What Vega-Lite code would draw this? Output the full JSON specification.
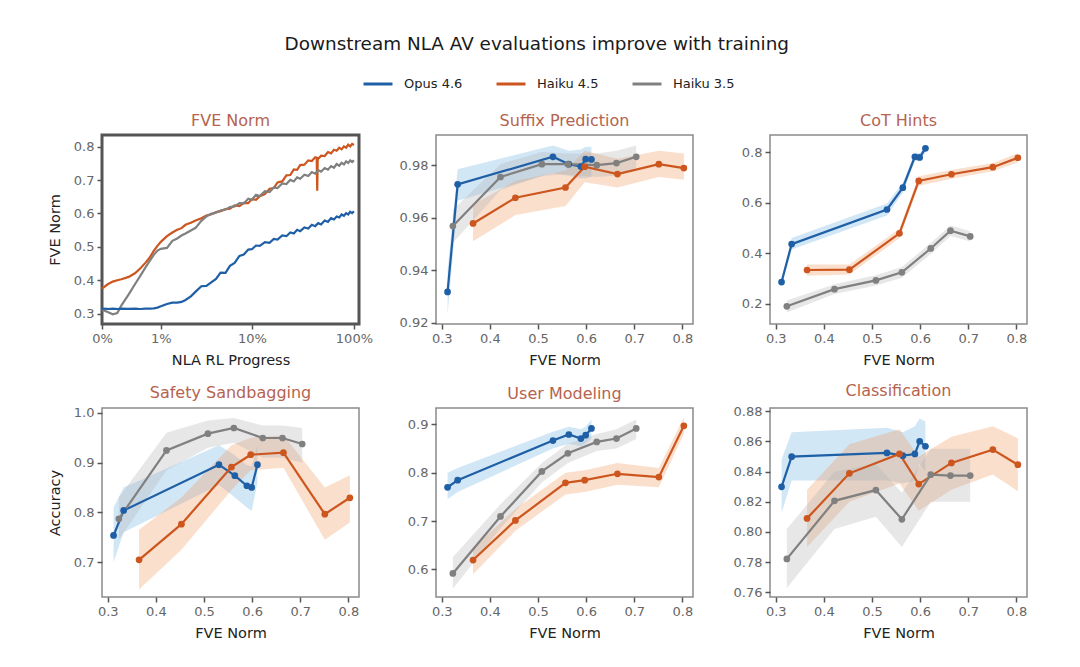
{
  "$schema": "https://vega.github.io/schema/vega-lite/v6.json",
  "background": "white",
  "padding": {"left": 45, "top": 34, "right": 20, "bottom": 20},
  "title": {"text": "Downstream NLA AV evaluations improve with training", "anchor": "middle", "fontSize": 18.4, "color": "#1a1a1a", "fontWeight": "normal", "font": "DejaVu Sans", "offset": 15, "frame": "bounds"},
  "config": {
    "font": "DejaVu Sans",
    "view": {"stroke": "#8a8a8a", "strokeWidth": 1.5},
    "title": {"fontSize": 16, "color": "#b5634f", "fontWeight": "normal", "offset": 6, "frame": "group"},
    "axis": {"domain": false, "grid": false, "labelFlush": false, "tickColor": "#555", "tickSize": 5, "tickWidth": 1.5, "labelColor": "#666", "labelFontSize": 13, "titleFontSize": 14.5, "titleFontWeight": "normal", "titleColor": "#222", "labelPadding": 3, "titlePadding": 8},
    "axisY": {"titlePadding": 11}
  },
  "datasets": {
    "rl": [
      {"m": "Haiku 4.5", "x": 0, "y": 0.375}, {"m": "Haiku 4.5", "x": 0.05, "y": 0.388}, {"m": "Haiku 4.5", "x": 0.1, "y": 0.396}, {"m": "Haiku 4.5", "x": 0.15, "y": 0.4}, {"m": "Haiku 4.5", "x": 0.2, "y": 0.403}, {"m": "Haiku 4.5", "x": 0.3, "y": 0.41}, {"m": "Haiku 4.5", "x": 0.4, "y": 0.421}, {"m": "Haiku 4.5", "x": 0.5, "y": 0.436}, {"m": "Haiku 4.5", "x": 0.6, "y": 0.452}, {"m": "Haiku 4.5", "x": 0.7, "y": 0.468}, {"m": "Haiku 4.5", "x": 0.8, "y": 0.488}, {"m": "Haiku 4.5", "x": 0.9, "y": 0.503}, {"m": "Haiku 4.5", "x": 1.0, "y": 0.515}, {"m": "Haiku 4.5", "x": 1.2, "y": 0.532}, {"m": "Haiku 4.5", "x": 1.4, "y": 0.543}, {"m": "Haiku 4.5", "x": 1.6, "y": 0.551}, {"m": "Haiku 4.5", "x": 1.8, "y": 0.556}, {"m": "Haiku 4.5", "x": 2.0, "y": 0.566}, {"m": "Haiku 4.5", "x": 2.3, "y": 0.572}, {"m": "Haiku 4.5", "x": 2.6, "y": 0.579}, {"m": "Haiku 4.5", "x": 3.0, "y": 0.586}, {"m": "Haiku 4.5", "x": 3.4, "y": 0.594}, {"m": "Haiku 4.5", "x": 3.8, "y": 0.597}, {"m": "Haiku 4.5", "x": 4.3, "y": 0.604}, {"m": "Haiku 4.5", "x": 4.8, "y": 0.607}, {"m": "Haiku 4.5", "x": 5.4, "y": 0.613}, {"m": "Haiku 4.5", "x": 6, "y": 0.614}, {"m": "Haiku 4.5", "x": 6.7, "y": 0.624}, {"m": "Haiku 4.5", "x": 7.5, "y": 0.622}, {"m": "Haiku 4.5", "x": 8.3, "y": 0.632}, {"m": "Haiku 4.5", "x": 9.2, "y": 0.631}, {"m": "Haiku 4.5", "x": 10, "y": 0.643}, {"m": "Haiku 4.5", "x": 11, "y": 0.641}, {"m": "Haiku 4.5", "x": 12, "y": 0.652}, {"m": "Haiku 4.5", "x": 13.5, "y": 0.658}, {"m": "Haiku 4.5", "x": 15, "y": 0.674}, {"m": "Haiku 4.5", "x": 16.5, "y": 0.676}, {"m": "Haiku 4.5", "x": 18, "y": 0.693}, {"m": "Haiku 4.5", "x": 20, "y": 0.696}, {"m": "Haiku 4.5", "x": 22, "y": 0.714}, {"m": "Haiku 4.5", "x": 24, "y": 0.715}, {"m": "Haiku 4.5", "x": 26, "y": 0.732}, {"m": "Haiku 4.5", "x": 28, "y": 0.731}, {"m": "Haiku 4.5", "x": 30, "y": 0.745}, {"m": "Haiku 4.5", "x": 33, "y": 0.746}, {"m": "Haiku 4.5", "x": 36, "y": 0.759}, {"m": "Haiku 4.5", "x": 39, "y": 0.757}, {"m": "Haiku 4.5", "x": 42, "y": 0.768}, {"m": "Haiku 4.5", "x": 43.5, "y": 0.766}, {"m": "Haiku 4.5", "x": 44, "y": 0.668}, {"m": "Haiku 4.5", "x": 44.5, "y": 0.765}, {"m": "Haiku 4.5", "x": 45, "y": 0.764}, {"m": "Haiku 4.5", "x": 48, "y": 0.773}, {"m": "Haiku 4.5", "x": 52, "y": 0.772}, {"m": "Haiku 4.5", "x": 56, "y": 0.784}, {"m": "Haiku 4.5", "x": 60, "y": 0.78}, {"m": "Haiku 4.5", "x": 64, "y": 0.791}, {"m": "Haiku 4.5", "x": 68, "y": 0.788}, {"m": "Haiku 4.5", "x": 72, "y": 0.797}, {"m": "Haiku 4.5", "x": 76, "y": 0.792}, {"m": "Haiku 4.5", "x": 80, "y": 0.801}, {"m": "Haiku 4.5", "x": 84, "y": 0.797}, {"m": "Haiku 4.5", "x": 88, "y": 0.806}, {"m": "Haiku 4.5", "x": 92, "y": 0.801}, {"m": "Haiku 4.5", "x": 96, "y": 0.808}, {"m": "Haiku 4.5", "x": 100, "y": 0.805},
      {"m": "Haiku 3.5", "x": 0, "y": 0.312}, {"m": "Haiku 3.5", "x": 0.05, "y": 0.305}, {"m": "Haiku 3.5", "x": 0.1, "y": 0.298}, {"m": "Haiku 3.5", "x": 0.15, "y": 0.302}, {"m": "Haiku 3.5", "x": 0.2, "y": 0.325}, {"m": "Haiku 3.5", "x": 0.3, "y": 0.358}, {"m": "Haiku 3.5", "x": 0.4, "y": 0.388}, {"m": "Haiku 3.5", "x": 0.5, "y": 0.414}, {"m": "Haiku 3.5", "x": 0.6, "y": 0.438}, {"m": "Haiku 3.5", "x": 0.7, "y": 0.458}, {"m": "Haiku 3.5", "x": 0.8, "y": 0.476}, {"m": "Haiku 3.5", "x": 0.9, "y": 0.489}, {"m": "Haiku 3.5", "x": 1.0, "y": 0.494}, {"m": "Haiku 3.5", "x": 1.2, "y": 0.497}, {"m": "Haiku 3.5", "x": 1.4, "y": 0.518}, {"m": "Haiku 3.5", "x": 1.6, "y": 0.525}, {"m": "Haiku 3.5", "x": 1.8, "y": 0.534}, {"m": "Haiku 3.5", "x": 2.0, "y": 0.54}, {"m": "Haiku 3.5", "x": 2.3, "y": 0.549}, {"m": "Haiku 3.5", "x": 2.6, "y": 0.557}, {"m": "Haiku 3.5", "x": 3.0, "y": 0.578}, {"m": "Haiku 3.5", "x": 3.4, "y": 0.591}, {"m": "Haiku 3.5", "x": 3.8, "y": 0.599}, {"m": "Haiku 3.5", "x": 4.3, "y": 0.602}, {"m": "Haiku 3.5", "x": 4.8, "y": 0.609}, {"m": "Haiku 3.5", "x": 5.4, "y": 0.612}, {"m": "Haiku 3.5", "x": 6, "y": 0.619}, {"m": "Haiku 3.5", "x": 6.7, "y": 0.621}, {"m": "Haiku 3.5", "x": 7.5, "y": 0.631}, {"m": "Haiku 3.5", "x": 8.3, "y": 0.63}, {"m": "Haiku 3.5", "x": 9.2, "y": 0.644}, {"m": "Haiku 3.5", "x": 10, "y": 0.641}, {"m": "Haiku 3.5", "x": 11, "y": 0.656}, {"m": "Haiku 3.5", "x": 12, "y": 0.652}, {"m": "Haiku 3.5", "x": 13.5, "y": 0.667}, {"m": "Haiku 3.5", "x": 15, "y": 0.664}, {"m": "Haiku 3.5", "x": 16.5, "y": 0.678}, {"m": "Haiku 3.5", "x": 18, "y": 0.676}, {"m": "Haiku 3.5", "x": 20, "y": 0.69}, {"m": "Haiku 3.5", "x": 22, "y": 0.688}, {"m": "Haiku 3.5", "x": 24, "y": 0.701}, {"m": "Haiku 3.5", "x": 26, "y": 0.696}, {"m": "Haiku 3.5", "x": 28, "y": 0.708}, {"m": "Haiku 3.5", "x": 30, "y": 0.704}, {"m": "Haiku 3.5", "x": 33, "y": 0.716}, {"m": "Haiku 3.5", "x": 36, "y": 0.712}, {"m": "Haiku 3.5", "x": 39, "y": 0.724}, {"m": "Haiku 3.5", "x": 42, "y": 0.719}, {"m": "Haiku 3.5", "x": 45, "y": 0.73}, {"m": "Haiku 3.5", "x": 48, "y": 0.725}, {"m": "Haiku 3.5", "x": 52, "y": 0.736}, {"m": "Haiku 3.5", "x": 56, "y": 0.731}, {"m": "Haiku 3.5", "x": 60, "y": 0.742}, {"m": "Haiku 3.5", "x": 64, "y": 0.737}, {"m": "Haiku 3.5", "x": 68, "y": 0.748}, {"m": "Haiku 3.5", "x": 72, "y": 0.743}, {"m": "Haiku 3.5", "x": 76, "y": 0.752}, {"m": "Haiku 3.5", "x": 80, "y": 0.747}, {"m": "Haiku 3.5", "x": 84, "y": 0.756}, {"m": "Haiku 3.5", "x": 88, "y": 0.751}, {"m": "Haiku 3.5", "x": 92, "y": 0.759}, {"m": "Haiku 3.5", "x": 96, "y": 0.754}, {"m": "Haiku 3.5", "x": 100, "y": 0.759},
      {"m": "Opus 4.6", "x": 0, "y": 0.315}, {"m": "Opus 4.6", "x": 0.05, "y": 0.314}, {"m": "Opus 4.6", "x": 0.1, "y": 0.315}, {"m": "Opus 4.6", "x": 0.15, "y": 0.314}, {"m": "Opus 4.6", "x": 0.2, "y": 0.315}, {"m": "Opus 4.6", "x": 0.3, "y": 0.314}, {"m": "Opus 4.6", "x": 0.4, "y": 0.315}, {"m": "Opus 4.6", "x": 0.5, "y": 0.314}, {"m": "Opus 4.6", "x": 0.6, "y": 0.315}, {"m": "Opus 4.6", "x": 0.7, "y": 0.315}, {"m": "Opus 4.6", "x": 0.8, "y": 0.316}, {"m": "Opus 4.6", "x": 0.9, "y": 0.318}, {"m": "Opus 4.6", "x": 1.0, "y": 0.322}, {"m": "Opus 4.6", "x": 1.2, "y": 0.329}, {"m": "Opus 4.6", "x": 1.4, "y": 0.333}, {"m": "Opus 4.6", "x": 1.6, "y": 0.333}, {"m": "Opus 4.6", "x": 1.8, "y": 0.335}, {"m": "Opus 4.6", "x": 2.0, "y": 0.341}, {"m": "Opus 4.6", "x": 2.3, "y": 0.352}, {"m": "Opus 4.6", "x": 2.6, "y": 0.366}, {"m": "Opus 4.6", "x": 3.0, "y": 0.382}, {"m": "Opus 4.6", "x": 3.4, "y": 0.383}, {"m": "Opus 4.6", "x": 3.8, "y": 0.393}, {"m": "Opus 4.6", "x": 4.3, "y": 0.404}, {"m": "Opus 4.6", "x": 4.8, "y": 0.423}, {"m": "Opus 4.6", "x": 5.4, "y": 0.422}, {"m": "Opus 4.6", "x": 6, "y": 0.443}, {"m": "Opus 4.6", "x": 6.7, "y": 0.452}, {"m": "Opus 4.6", "x": 7.5, "y": 0.473}, {"m": "Opus 4.6", "x": 8.3, "y": 0.477}, {"m": "Opus 4.6", "x": 9.2, "y": 0.492}, {"m": "Opus 4.6", "x": 10, "y": 0.493}, {"m": "Opus 4.6", "x": 11, "y": 0.504}, {"m": "Opus 4.6", "x": 12, "y": 0.503}, {"m": "Opus 4.6", "x": 13.5, "y": 0.514}, {"m": "Opus 4.6", "x": 15, "y": 0.512}, {"m": "Opus 4.6", "x": 16.5, "y": 0.524}, {"m": "Opus 4.6", "x": 18, "y": 0.522}, {"m": "Opus 4.6", "x": 20, "y": 0.534}, {"m": "Opus 4.6", "x": 22, "y": 0.532}, {"m": "Opus 4.6", "x": 24, "y": 0.543}, {"m": "Opus 4.6", "x": 26, "y": 0.54}, {"m": "Opus 4.6", "x": 28, "y": 0.551}, {"m": "Opus 4.6", "x": 30, "y": 0.547}, {"m": "Opus 4.6", "x": 33, "y": 0.558}, {"m": "Opus 4.6", "x": 36, "y": 0.555}, {"m": "Opus 4.6", "x": 39, "y": 0.566}, {"m": "Opus 4.6", "x": 42, "y": 0.562}, {"m": "Opus 4.6", "x": 45, "y": 0.571}, {"m": "Opus 4.6", "x": 48, "y": 0.567}, {"m": "Opus 4.6", "x": 52, "y": 0.579}, {"m": "Opus 4.6", "x": 56, "y": 0.575}, {"m": "Opus 4.6", "x": 60, "y": 0.586}, {"m": "Opus 4.6", "x": 64, "y": 0.582}, {"m": "Opus 4.6", "x": 68, "y": 0.591}, {"m": "Opus 4.6", "x": 72, "y": 0.588}, {"m": "Opus 4.6", "x": 76, "y": 0.597}, {"m": "Opus 4.6", "x": 80, "y": 0.593}, {"m": "Opus 4.6", "x": 84, "y": 0.601}, {"m": "Opus 4.6", "x": 88, "y": 0.597}, {"m": "Opus 4.6", "x": 92, "y": 0.605}, {"m": "Opus 4.6", "x": 96, "y": 0.601}, {"m": "Opus 4.6", "x": 100, "y": 0.607}
    ],
    "ev": [
      {"p": "S", "m": "Opus 4.6", "x": 0.312, "y": 0.9317, "lo": 0.923, "hi": 0.94},
      {"p": "S", "m": "Opus 4.6", "x": 0.333, "y": 0.9727, "lo": 0.9665, "hi": 0.9785},
      {"p": "S", "m": "Opus 4.6", "x": 0.531, "y": 0.9832, "lo": 0.977, "hi": 0.9875},
      {"p": "S", "m": "Opus 4.6", "x": 0.564, "y": 0.9804, "lo": 0.976, "hi": 0.9855},
      {"p": "S", "m": "Opus 4.6", "x": 0.589, "y": 0.9795, "lo": 0.975, "hi": 0.986},
      {"p": "S", "m": "Opus 4.6", "x": 0.599, "y": 0.9823, "lo": 0.975, "hi": 0.987},
      {"p": "S", "m": "Opus 4.6", "x": 0.611, "y": 0.9822, "lo": 0.9755, "hi": 0.987},
      {"p": "S", "m": "Haiku 4.5", "x": 0.365, "y": 0.9578, "lo": 0.951, "hi": 0.965},
      {"p": "S", "m": "Haiku 4.5", "x": 0.453, "y": 0.9676, "lo": 0.961, "hi": 0.974},
      {"p": "S", "m": "Haiku 4.5", "x": 0.557, "y": 0.9715, "lo": 0.9645, "hi": 0.978},
      {"p": "S", "m": "Haiku 4.5", "x": 0.597, "y": 0.9794, "lo": 0.9735, "hi": 0.9855},
      {"p": "S", "m": "Haiku 4.5", "x": 0.665, "y": 0.9766, "lo": 0.9715, "hi": 0.9825},
      {"p": "S", "m": "Haiku 4.5", "x": 0.751, "y": 0.9804, "lo": 0.9755, "hi": 0.9855},
      {"p": "S", "m": "Haiku 4.5", "x": 0.803, "y": 0.9789, "lo": 0.9745, "hi": 0.9845},
      {"p": "S", "m": "Haiku 3.5", "x": 0.323, "y": 0.9568, "lo": 0.9505, "hi": 0.963},
      {"p": "S", "m": "Haiku 3.5", "x": 0.422, "y": 0.9755, "lo": 0.9705, "hi": 0.9805},
      {"p": "S", "m": "Haiku 3.5", "x": 0.508, "y": 0.9804, "lo": 0.976, "hi": 0.985},
      {"p": "S", "m": "Haiku 3.5", "x": 0.562, "y": 0.9804, "lo": 0.9765, "hi": 0.9845},
      {"p": "S", "m": "Haiku 3.5", "x": 0.622, "y": 0.98, "lo": 0.9755, "hi": 0.9845},
      {"p": "S", "m": "Haiku 3.5", "x": 0.663, "y": 0.9808, "lo": 0.976, "hi": 0.9855},
      {"p": "S", "m": "Haiku 3.5", "x": 0.704, "y": 0.9832, "lo": 0.979, "hi": 0.9875},
      {"p": "C", "m": "Opus 4.6", "x": 0.312, "y": 0.2853, "lo": 0.27, "hi": 0.3},
      {"p": "C", "m": "Opus 4.6", "x": 0.333, "y": 0.436, "lo": 0.415, "hi": 0.46},
      {"p": "C", "m": "Opus 4.6", "x": 0.531, "y": 0.5733, "lo": 0.55, "hi": 0.597},
      {"p": "C", "m": "Opus 4.6", "x": 0.564, "y": 0.66, "lo": 0.64, "hi": 0.68},
      {"p": "C", "m": "Opus 4.6", "x": 0.589, "y": 0.7827, "lo": 0.765, "hi": 0.8},
      {"p": "C", "m": "Opus 4.6", "x": 0.599, "y": 0.78, "lo": 0.765, "hi": 0.797},
      {"p": "C", "m": "Opus 4.6", "x": 0.611, "y": 0.816, "lo": 0.8, "hi": 0.83},
      {"p": "C", "m": "Haiku 4.5", "x": 0.365, "y": 0.3333, "lo": 0.31, "hi": 0.355},
      {"p": "C", "m": "Haiku 4.5", "x": 0.453, "y": 0.3347, "lo": 0.315, "hi": 0.355},
      {"p": "C", "m": "Haiku 4.5", "x": 0.557, "y": 0.4787, "lo": 0.46, "hi": 0.497},
      {"p": "C", "m": "Haiku 4.5", "x": 0.597, "y": 0.6867, "lo": 0.668, "hi": 0.705},
      {"p": "C", "m": "Haiku 4.5", "x": 0.665, "y": 0.7133, "lo": 0.695, "hi": 0.73},
      {"p": "C", "m": "Haiku 4.5", "x": 0.751, "y": 0.7413, "lo": 0.725, "hi": 0.758},
      {"p": "C", "m": "Haiku 4.5", "x": 0.803, "y": 0.7787, "lo": 0.76, "hi": 0.797},
      {"p": "C", "m": "Haiku 3.5", "x": 0.323, "y": 0.1893, "lo": 0.165, "hi": 0.212},
      {"p": "C", "m": "Haiku 3.5", "x": 0.422, "y": 0.2573, "lo": 0.238, "hi": 0.277},
      {"p": "C", "m": "Haiku 3.5", "x": 0.508, "y": 0.292, "lo": 0.272, "hi": 0.312},
      {"p": "C", "m": "Haiku 3.5", "x": 0.562, "y": 0.324, "lo": 0.303, "hi": 0.345},
      {"p": "C", "m": "Haiku 3.5", "x": 0.622, "y": 0.4187, "lo": 0.397, "hi": 0.44},
      {"p": "C", "m": "Haiku 3.5", "x": 0.663, "y": 0.4893, "lo": 0.468, "hi": 0.51},
      {"p": "C", "m": "Haiku 3.5", "x": 0.704, "y": 0.4667, "lo": 0.446, "hi": 0.487},
      {"p": "SS", "m": "Opus 4.6", "x": 0.312, "y": 0.7537, "lo": 0.7, "hi": 0.81},
      {"p": "SS", "m": "Opus 4.6", "x": 0.333, "y": 0.804, "lo": 0.76, "hi": 0.85},
      {"p": "SS", "m": "Opus 4.6", "x": 0.531, "y": 0.896, "lo": 0.855, "hi": 0.935},
      {"p": "SS", "m": "Opus 4.6", "x": 0.564, "y": 0.874, "lo": 0.83, "hi": 0.915},
      {"p": "SS", "m": "Opus 4.6", "x": 0.589, "y": 0.8537, "lo": 0.81, "hi": 0.895},
      {"p": "SS", "m": "Opus 4.6", "x": 0.599, "y": 0.8503, "lo": 0.803, "hi": 0.893},
      {"p": "SS", "m": "Opus 4.6", "x": 0.611, "y": 0.896, "lo": 0.86, "hi": 0.935},
      {"p": "SS", "m": "Haiku 4.5", "x": 0.365, "y": 0.7047, "lo": 0.645, "hi": 0.765},
      {"p": "SS", "m": "Haiku 4.5", "x": 0.453, "y": 0.7765, "lo": 0.725, "hi": 0.83},
      {"p": "SS", "m": "Haiku 4.5", "x": 0.557, "y": 0.8913, "lo": 0.845, "hi": 0.935},
      {"p": "SS", "m": "Haiku 4.5", "x": 0.597, "y": 0.9161, "lo": 0.885, "hi": 0.95},
      {"p": "SS", "m": "Haiku 4.5", "x": 0.665, "y": 0.9201, "lo": 0.89, "hi": 0.955},
      {"p": "SS", "m": "Haiku 4.5", "x": 0.751, "y": 0.7966, "lo": 0.745, "hi": 0.85},
      {"p": "SS", "m": "Haiku 4.5", "x": 0.803, "y": 0.8295, "lo": 0.78, "hi": 0.875},
      {"p": "SS", "m": "Haiku 3.5", "x": 0.323, "y": 0.7872, "lo": 0.745, "hi": 0.83},
      {"p": "SS", "m": "Haiku 3.5", "x": 0.422, "y": 0.9248, "lo": 0.885, "hi": 0.96},
      {"p": "SS", "m": "Haiku 3.5", "x": 0.508, "y": 0.9584, "lo": 0.93, "hi": 0.985},
      {"p": "SS", "m": "Haiku 3.5", "x": 0.562, "y": 0.9698, "lo": 0.94, "hi": 0.99},
      {"p": "SS", "m": "Haiku 3.5", "x": 0.622, "y": 0.9497, "lo": 0.91, "hi": 0.975},
      {"p": "SS", "m": "Haiku 3.5", "x": 0.663, "y": 0.9497, "lo": 0.91, "hi": 0.975},
      {"p": "SS", "m": "Haiku 3.5", "x": 0.704, "y": 0.9376, "lo": 0.9, "hi": 0.97},
      {"p": "U", "m": "Opus 4.6", "x": 0.312, "y": 0.77, "lo": 0.745, "hi": 0.8},
      {"p": "U", "m": "Opus 4.6", "x": 0.333, "y": 0.7847, "lo": 0.76, "hi": 0.81},
      {"p": "U", "m": "Opus 4.6", "x": 0.531, "y": 0.8667, "lo": 0.85, "hi": 0.885},
      {"p": "U", "m": "Opus 4.6", "x": 0.564, "y": 0.8792, "lo": 0.86, "hi": 0.895},
      {"p": "U", "m": "Opus 4.6", "x": 0.589, "y": 0.8708, "lo": 0.855, "hi": 0.89},
      {"p": "U", "m": "Opus 4.6", "x": 0.599, "y": 0.8778, "lo": 0.86, "hi": 0.895},
      {"p": "U", "m": "Opus 4.6", "x": 0.611, "y": 0.8917, "lo": 0.87, "hi": 0.91},
      {"p": "U", "m": "Haiku 4.5", "x": 0.365, "y": 0.6194, "lo": 0.59, "hi": 0.645},
      {"p": "U", "m": "Haiku 4.5", "x": 0.453, "y": 0.7014, "lo": 0.68, "hi": 0.725},
      {"p": "U", "m": "Haiku 4.5", "x": 0.557, "y": 0.7792, "lo": 0.755, "hi": 0.8},
      {"p": "U", "m": "Haiku 4.5", "x": 0.597, "y": 0.7847, "lo": 0.76, "hi": 0.805},
      {"p": "U", "m": "Haiku 4.5", "x": 0.665, "y": 0.7979, "lo": 0.775, "hi": 0.82},
      {"p": "U", "m": "Haiku 4.5", "x": 0.751, "y": 0.791, "lo": 0.77, "hi": 0.81},
      {"p": "U", "m": "Haiku 4.5", "x": 0.803, "y": 0.8972, "lo": 0.88, "hi": 0.915},
      {"p": "U", "m": "Haiku 3.5", "x": 0.323, "y": 0.5917, "lo": 0.56, "hi": 0.625},
      {"p": "U", "m": "Haiku 3.5", "x": 0.422, "y": 0.7097, "lo": 0.685, "hi": 0.735},
      {"p": "U", "m": "Haiku 3.5", "x": 0.508, "y": 0.8028, "lo": 0.78, "hi": 0.82},
      {"p": "U", "m": "Haiku 3.5", "x": 0.562, "y": 0.8403, "lo": 0.82, "hi": 0.86},
      {"p": "U", "m": "Haiku 3.5", "x": 0.622, "y": 0.8639, "lo": 0.845, "hi": 0.88},
      {"p": "U", "m": "Haiku 3.5", "x": 0.663, "y": 0.8708, "lo": 0.85, "hi": 0.89},
      {"p": "U", "m": "Haiku 3.5", "x": 0.704, "y": 0.8917, "lo": 0.87, "hi": 0.91},
      {"p": "CL", "m": "Opus 4.6", "x": 0.312, "y": 0.8299, "lo": 0.8125, "hi": 0.848},
      {"p": "CL", "m": "Opus 4.6", "x": 0.333, "y": 0.8498, "lo": 0.834, "hi": 0.866},
      {"p": "CL", "m": "Opus 4.6", "x": 0.531, "y": 0.8523, "lo": 0.834, "hi": 0.869},
      {"p": "CL", "m": "Opus 4.6", "x": 0.564, "y": 0.8505, "lo": 0.832, "hi": 0.866},
      {"p": "CL", "m": "Opus 4.6", "x": 0.589, "y": 0.8516, "lo": 0.834, "hi": 0.87},
      {"p": "CL", "m": "Opus 4.6", "x": 0.599, "y": 0.86, "lo": 0.845, "hi": 0.875},
      {"p": "CL", "m": "Opus 4.6", "x": 0.611, "y": 0.8567, "lo": 0.84, "hi": 0.873},
      {"p": "CL", "m": "Haiku 4.5", "x": 0.365, "y": 0.809, "lo": 0.79, "hi": 0.828},
      {"p": "CL", "m": "Haiku 4.5", "x": 0.453, "y": 0.8388, "lo": 0.82, "hi": 0.858},
      {"p": "CL", "m": "Haiku 4.5", "x": 0.557, "y": 0.8516, "lo": 0.832, "hi": 0.868},
      {"p": "CL", "m": "Haiku 4.5", "x": 0.597, "y": 0.8317, "lo": 0.814, "hi": 0.85},
      {"p": "CL", "m": "Haiku 4.5", "x": 0.665, "y": 0.8457, "lo": 0.828, "hi": 0.863},
      {"p": "CL", "m": "Haiku 4.5", "x": 0.751, "y": 0.8545, "lo": 0.838, "hi": 0.87},
      {"p": "CL", "m": "Haiku 4.5", "x": 0.803, "y": 0.8445, "lo": 0.827, "hi": 0.862},
      {"p": "CL", "m": "Haiku 3.5", "x": 0.323, "y": 0.7822, "lo": 0.763, "hi": 0.802},
      {"p": "CL", "m": "Haiku 3.5", "x": 0.422, "y": 0.8206, "lo": 0.802, "hi": 0.84},
      {"p": "CL", "m": "Haiku 3.5", "x": 0.508, "y": 0.8277, "lo": 0.81, "hi": 0.845},
      {"p": "CL", "m": "Haiku 3.5", "x": 0.562, "y": 0.8084, "lo": 0.79, "hi": 0.826},
      {"p": "CL", "m": "Haiku 3.5", "x": 0.622, "y": 0.8379, "lo": 0.82, "hi": 0.855},
      {"p": "CL", "m": "Haiku 3.5", "x": 0.663, "y": 0.8373, "lo": 0.82, "hi": 0.855},
      {"p": "CL", "m": "Haiku 3.5", "x": 0.704, "y": 0.8373, "lo": 0.82, "hi": 0.855}
    ]
  },
  "columns": 3,
  "spacing": {"row": 84, "column": 77},
  "bounds": "flush",
  "resolve": {"scale": {"color": "shared", "fill": "shared"}},
  "concat": [
    {
      "width": 257, "height": 189,
      "title": "FVE Norm",
      "view": {"stroke": "#555", "strokeWidth": 3},
      "data": {"name": "rl"},
      "mark": {"type": "line", "strokeWidth": 2.2},
      "encoding": {
        "x": {"field": "x", "type": "quantitative", "title": "NLA RL Progress", "scale": {"type": "symlog", "constant": 0.37, "domain": [0, 112], "nice": false}, "axis": {"values": [0, 1, 10, 100], "labelExpr": "datum.value + '%'"}},
        "y": {"field": "y", "type": "quantitative", "title": "FVE Norm", "scale": {"domain": [0.269, 0.835], "nice": false, "zero": false}, "axis": {"values": [0.3, 0.4, 0.5, 0.6, 0.7, 0.8], "format": ".1f"}},
        "color": {"field": "m", "type": "nominal", "scale": {"domain": ["Opus 4.6", "Haiku 4.5", "Haiku 3.5"], "range": ["#1f5fa6", "#cc561e", "#808080"]},
          "legend": {"orient": "none", "legendX": 260, "legendY": -67, "direction": "horizontal", "title": null, "symbolType": "stroke", "symbolStrokeWidth": 3, "symbolSize": 840, "labelFontSize": 13, "labelColor": "#222", "labelOffset": 10, "columnPadding": 27}}
      }
    },
    {
      "width": 257, "height": 189,
      "title": "Suffix Prediction",
      "data": {"name": "ev"},
      "transform": [{"filter": "datum.p == 'S'"}],
      "encoding": {
        "x": {"field": "x", "type": "quantitative", "title": "FVE Norm", "scale": {"domain": [0.288, 0.822], "nice": false, "zero": false}, "axis": {"values": [0.3, 0.4, 0.5, 0.6, 0.7, 0.8], "format": ".1f"}},
        "y": {"field": "y", "type": "quantitative", "title": null, "scale": {"domain": [0.9195, 0.9915], "nice": false, "zero": false}, "axis": {"values": [0.92, 0.94, 0.96, 0.98], "format": ".2f"}}
      },
      "layer": [
        {"mark": {"type": "area", "opacity": 0.3}, "encoding": {"y": {"field": "lo", "type": "quantitative", "title": null}, "y2": {"field": "hi"}, "fill": {"field": "m", "type": "nominal", "scale": {"domain": ["Opus 4.6", "Haiku 4.5", "Haiku 3.5"], "range": ["#6aaee0", "#f0955a", "#b0b0b0"]}, "legend": null}}},
        {"mark": {"type": "line", "strokeWidth": 2.2}, "encoding": {"color": {"field": "m", "type": "nominal", "legend": null}}},
        {"mark": {"type": "circle", "size": 45, "opacity": 1}, "encoding": {"color": {"field": "m", "type": "nominal", "legend": null}}}
      ]
    },
    {
      "width": 257, "height": 189,
      "title": "CoT Hints",
      "data": {"name": "ev"},
      "transform": [{"filter": "datum.p == 'C'"}],
      "encoding": {
        "x": {"field": "x", "type": "quantitative", "title": "FVE Norm", "scale": {"domain": [0.288, 0.822], "nice": false, "zero": false}, "axis": {"values": [0.3, 0.4, 0.5, 0.6, 0.7, 0.8], "format": ".1f"}},
        "y": {"field": "y", "type": "quantitative", "title": null, "scale": {"domain": [0.119, 0.869], "nice": false, "zero": false}, "axis": {"values": [0.2, 0.4, 0.6, 0.8], "format": ".1f"}}
      },
      "layer": [
        {"mark": {"type": "area", "opacity": 0.3}, "encoding": {"y": {"field": "lo", "type": "quantitative", "title": null}, "y2": {"field": "hi"}, "fill": {"field": "m", "type": "nominal", "legend": null}}},
        {"mark": {"type": "line", "strokeWidth": 2.2}, "encoding": {"color": {"field": "m", "type": "nominal", "legend": null}}},
        {"mark": {"type": "circle", "size": 45, "opacity": 1}, "encoding": {"color": {"field": "m", "type": "nominal", "legend": null}}}
      ]
    },
    {
      "width": 257, "height": 189,
      "title": "Safety Sandbagging",
      "data": {"name": "ev"},
      "transform": [{"filter": "datum.p == 'SS'"}],
      "encoding": {
        "x": {"field": "x", "type": "quantitative", "title": "FVE Norm", "scale": {"domain": [0.288, 0.822], "nice": false, "zero": false}, "axis": {"values": [0.3, 0.4, 0.5, 0.6, 0.7, 0.8], "format": ".1f"}},
        "y": {"field": "y", "type": "quantitative", "title": "Accuracy", "scale": {"domain": [0.63, 1.01], "nice": false, "zero": false}, "axis": {"values": [0.7, 0.8, 0.9, 1.0], "format": ".1f"}}
      },
      "layer": [
        {"mark": {"type": "area", "opacity": 0.3}, "encoding": {"y": {"field": "lo", "type": "quantitative", "title": "Accuracy"}, "y2": {"field": "hi"}, "fill": {"field": "m", "type": "nominal", "legend": null}}},
        {"mark": {"type": "line", "strokeWidth": 2.2}, "encoding": {"color": {"field": "m", "type": "nominal", "legend": null}}},
        {"mark": {"type": "circle", "size": 45, "opacity": 1}, "encoding": {"color": {"field": "m", "type": "nominal", "legend": null}}}
      ]
    },
    {
      "width": 257, "height": 189,
      "title": "User Modeling",
      "data": {"name": "ev"},
      "transform": [{"filter": "datum.p == 'U'"}],
      "encoding": {
        "x": {"field": "x", "type": "quantitative", "title": "FVE Norm", "scale": {"domain": [0.288, 0.822], "nice": false, "zero": false}, "axis": {"values": [0.3, 0.4, 0.5, 0.6, 0.7, 0.8], "format": ".1f"}},
        "y": {"field": "y", "type": "quantitative", "title": null, "scale": {"domain": [0.543, 0.934], "nice": false, "zero": false}, "axis": {"values": [0.6, 0.7, 0.8, 0.9], "format": ".1f"}}
      },
      "layer": [
        {"mark": {"type": "area", "opacity": 0.3}, "encoding": {"y": {"field": "lo", "type": "quantitative", "title": null}, "y2": {"field": "hi"}, "fill": {"field": "m", "type": "nominal", "legend": null}}},
        {"mark": {"type": "line", "strokeWidth": 2.2}, "encoding": {"color": {"field": "m", "type": "nominal", "legend": null}}},
        {"mark": {"type": "circle", "size": 45, "opacity": 1}, "encoding": {"color": {"field": "m", "type": "nominal", "legend": null}}}
      ]
    },
    {
      "width": 257, "height": 189,
      "title": "Classification",
      "data": {"name": "ev"},
      "transform": [{"filter": "datum.p == 'CL'"}],
      "encoding": {
        "x": {"field": "x", "type": "quantitative", "title": "FVE Norm", "scale": {"domain": [0.288, 0.822], "nice": false, "zero": false}, "axis": {"values": [0.3, 0.4, 0.5, 0.6, 0.7, 0.8], "format": ".1f"}},
        "y": {"field": "y", "type": "quantitative", "title": null, "scale": {"domain": [0.757, 0.882], "nice": false, "zero": false}, "axis": {"values": [0.76, 0.78, 0.8, 0.82, 0.84, 0.86, 0.88], "format": ".2f"}}
      },
      "layer": [
        {"mark": {"type": "area", "opacity": 0.3}, "encoding": {"y": {"field": "lo", "type": "quantitative", "title": null}, "y2": {"field": "hi"}, "fill": {"field": "m", "type": "nominal", "legend": null}}},
        {"mark": {"type": "line", "strokeWidth": 2.2}, "encoding": {"color": {"field": "m", "type": "nominal", "legend": null}}},
        {"mark": {"type": "circle", "size": 45, "opacity": 1}, "encoding": {"color": {"field": "m", "type": "nominal", "legend": null}}}
      ]
    }
  ]
}
